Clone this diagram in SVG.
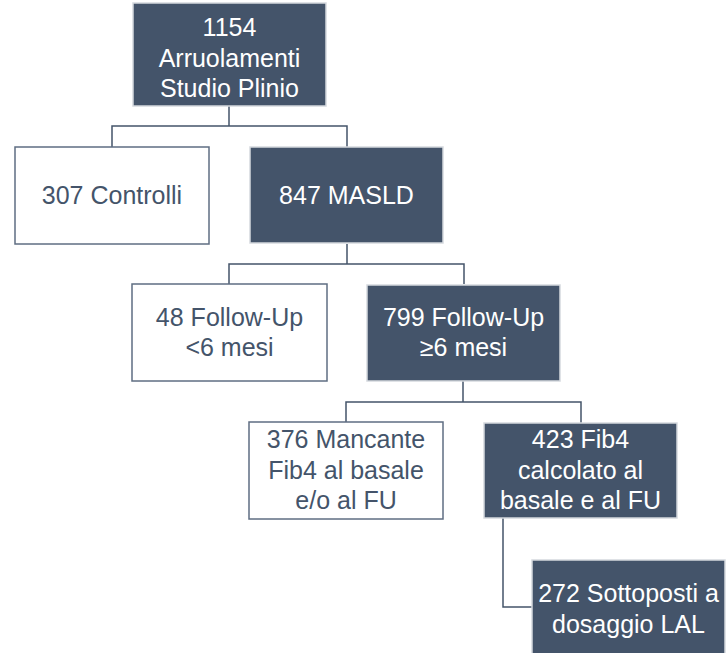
<svg xmlns="http://www.w3.org/2000/svg" width="728" height="653" viewBox="0 0 728 653">
<style>
.dark{fill:#44546A;stroke:#D5D9DE;stroke-width:1.5}
.light{fill:#FFFFFF;stroke:#5F6E82;stroke-width:1.5}
text{font-family:"Liberation Sans","Open Sans",sans-serif;font-size:25px;text-anchor:middle}
.dark-t{fill:#FFFFFF}
.light-t{fill:#44546A}
.conn{fill:none;stroke:#44546A;stroke-width:1.5}
</style>
<rect width="728" height="653" fill="#FFFFFF"/>
<g id="connectors">
<path class="conn" d="M229,106 V126 M112,147 V126 H347 V147"/>
<path class="conn" d="M347,244 V264 M229,284 V264 H464 V284"/>
<path class="conn" d="M463,381 V402 M346,422 V402 H581 V423"/>
<path class="conn" d="M503,518 V607 H532"/>
</g>
<g id="n1154">
<rect class="dark" x="133" y="3" width="193" height="103"/>
<text class="dark-t" x="229.5" y="36">1154</text>
<text class="dark-t" x="229.5" y="67">Arruolamenti</text>
<text class="dark-t" x="229.5" y="97">Studio Plinio</text>
</g>
<g id="controlli">
<rect class="light" x="15" y="147" width="194" height="97"/>
<text class="light-t" x="112" y="204">307 Controlli</text>
</g>
<g id="masld">
<rect class="dark" x="250" y="147" width="193" height="96"/>
<text class="dark-t" x="346.5" y="204">847 MASLD</text>
</g>
<g id="fu48">
<rect class="light" x="132" y="284" width="195" height="97"/>
<text class="light-t" x="229.5" y="326">48 Follow-Up</text>
<text class="light-t" x="229.5" y="356">&lt;6 mesi</text>
</g>
<g id="fu799">
<rect class="dark" x="367" y="285" width="193" height="96"/>
<text class="dark-t" x="463.5" y="326">799 Follow-Up</text>
<text class="dark-t" x="463.5" y="356">≥6 mesi</text>
</g>
<g id="mancante376">
<rect class="light" x="249" y="422" width="194" height="97"/>
<text class="light-t" x="346" y="448">376 Mancante</text>
<text class="light-t" x="346" y="479">Fib4 al basale</text>
<text class="light-t" x="346" y="509">e/o al FU</text>
</g>
<g id="fib423">
<rect class="dark" x="484" y="423" width="193" height="95"/>
<text class="dark-t" x="580.5" y="448">423 Fib4</text>
<text class="dark-t" x="580.5" y="479">calcolato al</text>
<text class="dark-t" x="580.5" y="509">basale e al FU</text>
</g>
<g id="lal272">
<rect class="dark" x="532" y="560" width="193" height="97"/>
<text class="dark-t" x="628.5" y="602">272 Sottoposti a</text>
<text class="dark-t" x="628.5" y="633">dosaggio LAL</text>
</g>
</svg>
